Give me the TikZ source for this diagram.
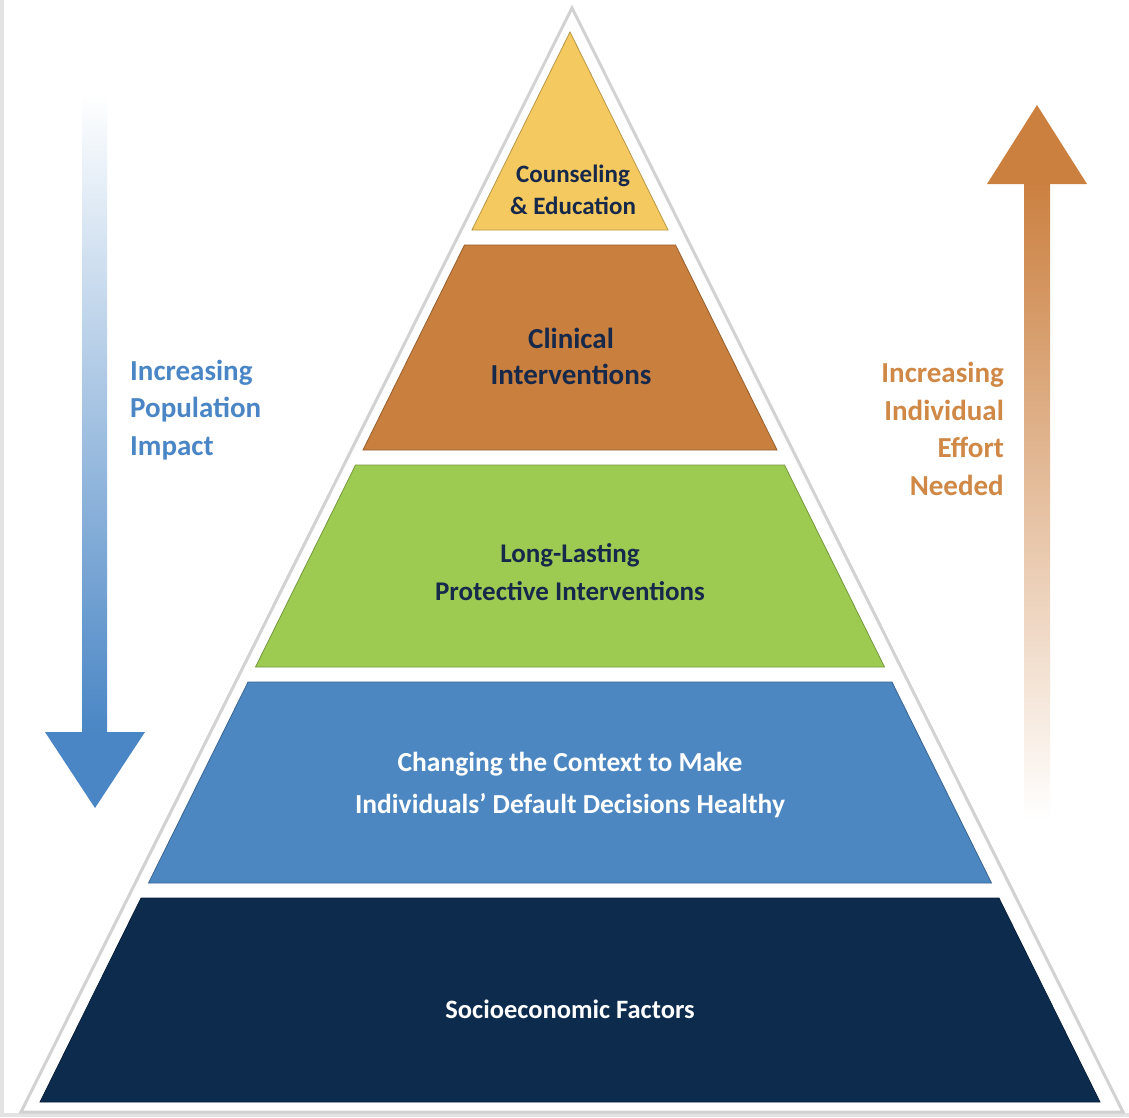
\documentclass[tikz,border=0pt]{standalone}
\usepackage{fontspec}
\setmainfont{Carlito}
\usetikzlibrary{calc}
\definecolor{cyel}{HTML}{F4C95F}
\definecolor{corg}{HTML}{C97F3D}
\definecolor{cgrn}{HTML}{9DCB52}
\definecolor{cblu}{HTML}{4D87C1}
\definecolor{cnav}{HTML}{0C2B4D}
\definecolor{ctxt}{HTML}{17294A}
\definecolor{lblue}{HTML}{4A86C5}
\definecolor{lorg}{HTML}{CF8846}
\definecolor{aorg}{HTML}{CB8040}
\tikzset{
  band/.style={draw=#1!75!black, line width=0.8pt, fill=#1},
  lbl/.style={align=center, text=ctxt, inner sep=0pt},
  side/.style={font=\bfseries\fontsize{29}{37.5}\selectfont, inner sep=0pt}
}
\newcommand{\fs}[2]{\bfseries\fontsize{#1}{#2}\selectfont}
\newcommand{\xl}[1]{\fpeval{570-0.4953*(#1-32)}}
\newcommand{\xr}[1]{\fpeval{570+0.4953*(#1-32)}}
\newcommand{\pband}[3]{%
  \fill[band=#3] (\xl{#1},#1) -- (\xr{#1},#1) -- (\xr{#2},#2) -- (\xl{#2},#2) -- cycle;}
\begin{document}
\begin{tikzpicture}[x=1pt,y=-1pt]
\useasboundingbox (0,0) rectangle (1129,1117);
\fill[white] (0,0) rectangle (1129,1117);
% frame
\draw[gray!22, line width=4pt] (2,0) -- (2,1115) -- (1129,1115);
% outer triangle
\draw[gray!35, line width=3pt, fill=white] (572,8) -- (1123,1112) -- (21,1112) -- cycle;
\fill[white] (572,12) -- (1118,1109) -- (26,1109) -- cycle;
% bands
\fill[band=cyel] (570,32) -- (\xr{230},230) -- (\xl{230},230) -- cycle;
\pband{245}{450}{corg}
\pband{465}{667}{cgrn}
\pband{682}{883}{cblu}
\pband{898}{1102}{cnav}
% band labels
\node[lbl, font=\fs{25}{32}] (ce) at (573,190) {Counseling\\\& Education};
\node[lbl, font=\fs{29}{36}] (ci) at (571,356) {Clinical\\Interventions};
\node[lbl, font=\fs{27}{38}] (ll) at (570,572) {Long-Lasting\\Protective Interventions};
\node[lbl, text=white, font=\fs{27.5}{42}] (cc) at (570,785) {Changing the Context to Make\\Individuals' Default Decisions Healthy};
\node[lbl, text=white, font=\fs{26.5}{36}] (se) at (570,1009) {Socioeconomic Factors};
% left arrow
\shade[top color=white, bottom color=lblue] (82,95) rectangle (107,733);
\fill[lblue] (45,732) -- (145,732) -- (95,808) -- cycle;
\node[side, text=lblue, align=left, anchor=west] (pi) at (130,410) {Increasing\\Population\\Impact};
% right arrow
\shade[top color=aorg, bottom color=white] (1024,182) rectangle (1050,820);
\fill[aorg] (987,184) -- (1087,184) -- (1037,105) -- cycle;
\node[side, text=lorg, align=right, anchor=east] (ie) at (1004,429) {Increasing\\Individual\\Effort\\Needed};
\end{tikzpicture}
\end{document}
